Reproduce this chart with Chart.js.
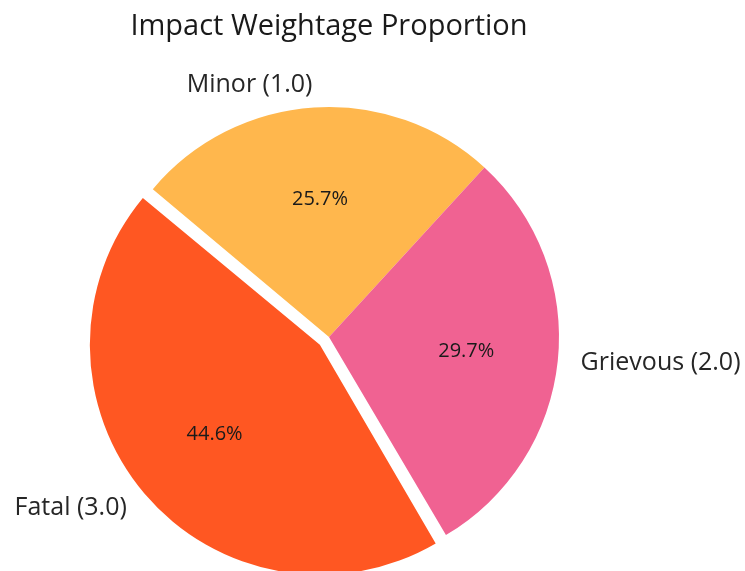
<!DOCTYPE html>
<html>
<head>
<meta charset="utf-8">
<script src="https://cdn.jsdelivr.net/npm/chart.js@4.4.0/dist/chart.umd.min.js"></script>
<style>
  html, body { margin: 0; padding: 0; background: #ffffff; }
</style>
</head>
<body>
<canvas id="impact-pie" width="745" height="571"></canvas>
<script>
const impact_pie = document.getElementById("impact-pie");

// order is clockwise starting from the Minor / Fatal edge
const categories = ["Minor (1.0)", "Grievous (2.0)", "Fatal (3.0)"];
const shares = [25.7, 29.7, 44.6];
const exploded = [false, false, true];

const colors = ["#FFB74D", "#F06292", "#FF5722"];
const FONT = "'Open Sans', sans-serif";
const EXPLODE_PX = 12;
const RADIUS = 230;

// chart.js grows an offset arc a bit, keep the exploded slice at the same radius
const keepRadius = {
  id: "keepRadius",
  afterDatasetUpdate(chart, args) {
    args.meta.data.forEach((arc) => {
      const shift = (arc.options.offset || 0) / 4;
      const fix = 1 - Math.sin(Math.min(Math.PI, arc.circumference));
      arc.outerRadius -= shift * fix;
    });
  },
};

// labels outside (1.1 r) and percentages inside (0.6 r), like autopct
const pieText = {
  id: "pieText",
  afterDatasetsDraw(chart) {
    const ctx = chart.ctx;
    const meta = chart.getDatasetMeta(0);
    const total = shares.reduce((a, b) => a + b, 0);

    ctx.save();
    ctx.textBaseline = "middle";
    meta.data.forEach((arc, i) => {
      const p = arc.getProps(["x", "y", "startAngle", "endAngle"], true);
      const mid = (p.startAngle + p.endAngle) / 2;
      const shift = (arc.options.offset || 0) / 4;
      const cx = p.x + Math.cos(mid) * shift;
      const cy = p.y + Math.sin(mid) * shift;

      // percentage
      ctx.font = "20px " + FONT;
      ctx.fillStyle = "#1a1a1a";
      ctx.textAlign = "center";
      ctx.fillText(
        (shares[i] / total * 100).toFixed(1) + "%",
        cx + Math.cos(mid) * RADIUS * 0.6,
        cy + Math.sin(mid) * RADIUS * 0.6
      );

      // category
      const lx = cx + Math.cos(mid) * RADIUS * 1.1;
      const ly = cy + Math.sin(mid) * RADIUS * 1.1;
      ctx.font = "25px " + FONT;
      ctx.fillStyle = "#262626";
      ctx.textAlign = Math.cos(mid) < 0 ? "right" : "left";
      ctx.fillText(categories[i], lx, ly);
    });
    ctx.restore();
  },
};

new Chart(impact_pie, {
  type: "pie",
  data: {
    labels: categories,
    datasets: [
      {
        data: shares,
        backgroundColor: colors,
        borderWidth: 0,
        offset: exploded.map((e) => (e ? EXPLODE_PX * 4 : 0)),
        hoverOffset: 0,
      },
    ],
  },
  options: {
    responsive: false,
    animation: false,
    radius: RADIUS,
    rotation: -50,
    layout: {
      padding: { left: 0, right: 87, top: 0, bottom: 0 },
    },
    plugins: {
      legend: { display: false },
      tooltip: { enabled: false },
      title: {
        display: true,
        text: "Impact Weightage Proportion",
        color: "#1a1a1a",
        font: { family: FONT, size: 29, weight: "normal" },
        padding: { top: 9.6, bottom: 58.6 },
      },
    },
  },
  plugins: [keepRadius, pieText],
});
</script>
</body>
</html>
